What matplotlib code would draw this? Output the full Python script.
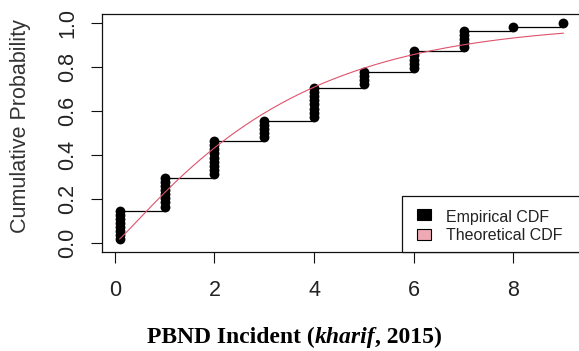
import numpy as np
import matplotlib
matplotlib.use('Agg')
import matplotlib.pyplot as plt
from matplotlib.patches import Rectangle

# observed PBND incident values and how often each one occurs
values = [0.1, 1, 2, 3, 4, 5, 6, 7, 8, 9]
counts = [8, 8, 9, 5, 8, 4, 5, 5, 1, 1]
# fitted weibull (shape, scale) for the theoretical curve
wb_shape = 1.12
wb_scale = 3.32

xticks = [0, 2, 4, 6, 8]
yticks = [0.0, 0.2, 0.4, 0.6, 0.8, 1.0]

red = '#DF536B'
pink = '#EFA9B5'
W, H = 579, 351

obs = np.repeat(values, counts)
n = len(obs)
ecdf = np.arange(1, n + 1) / n
levels = np.cumsum(counts) / n

fig = plt.figure(figsize=(W / 100, H / 100), dpi=100)
ax = fig.add_axes([102 / W, (H - 252.1) / H, (581 - 102) / W, (252.1 - 14) / H])

ax.hlines(levels[:-1], values[:-1], values[1:], colors='black', linewidth=0.9)
ax.scatter(obs, ecdf, s=50, color='black', zorder=3, linewidths=0)

xs = np.linspace(min(values), max(values), 300)
ax.plot(xs, 1 - np.exp(-(xs / wb_scale) ** wb_shape), color=red, linewidth=0.8, zorder=4)

ax.set_xlim(-0.256, 9.356)
ax.set_ylim(-0.04, 1.04)
ax.set_xticks(xticks)
ax.set_xticklabels([str(v) for v in xticks])
ax.set_yticks(yticks)
ax.set_yticklabels(['%.1f' % v for v in yticks])
for sp in ax.spines.values():
    sp.set_linewidth(0.9)
    sp.set_color('#111111')

tick_font = dict(family=['Liberation Sans', 'DejaVu Sans'], size=15.5)
ax.tick_params(axis='both', length=8, width=0.8, color='#111111', labelcolor='#222222')
ax.tick_params(axis='x', pad=12)
ax.tick_params(axis='y', pad=9)
for lab in ax.get_xticklabels():
    lab.set_fontproperties(matplotlib.font_manager.FontProperties(**tick_font))
for lab in ax.get_yticklabels():
    lab.set_fontproperties(matplotlib.font_manager.FontProperties(**tick_font))
    lab.set_rotation(90)
    lab.set_va('center')
    lab.set_ha('right')

fig.text(20.7 / W, (H - 126) / H, 'Cumulative Probability', rotation=90,
         ha='center', va='center', color='#333333', **tick_font)

# legend box, drawn by hand in pixel positions
def ax_xy(px, py):
    return (px - 102) / 479, (252.1 - py) / 238.1

x0, y0 = ax_xy(401.7, 252.1)
x1, y1 = ax_xy(581, 195.7)
ax.add_patch(Rectangle((x0, y0), x1 - x0, y1 - y0, transform=ax.transAxes,
                       facecolor='white', edgecolor='#111111', linewidth=0.9,
                       clip_on=False, zorder=5))
leg_font = dict(family=['Liberation Sans', 'DejaVu Sans'], size=11.5, color='#222222')
for label, fc, top, base in [('Empirical CDF', 'black', 209, 222.3),
                             ('Theoretical CDF', pink, 228.5, 240)]:
    bx0, by0 = ax_xy(416.7, top + 11)
    bx1, by1 = ax_xy(431, top)
    ax.add_patch(Rectangle((bx0, by0), bx1 - bx0, by1 - by0, transform=ax.transAxes,
                           facecolor=fc, edgecolor='black', linewidth=0.8,
                           clip_on=False, zorder=6))
    tx, ty = ax_xy(445.7, base)
    ax.text(tx, ty, label, transform=ax.transAxes, ha='left', va='baseline',
            zorder=6, **leg_font)

# x axis caption: bold serif with italic "kharif"
renderer = fig.canvas.get_renderer()
cap_font = dict(family=['Liberation Serif', 'DejaVu Serif'], size=17, weight='bold')
px = 147
for piece, style in [('PBND Incident (', 'normal'), ('kharif', 'italic'), (', 2015)', 'normal')]:
    t = fig.text(px / W, 8 / H, piece, ha='left', va='baseline', style=style,
                 color='black', **cap_font)
    px = t.get_window_extent(renderer).x1

fig.savefig('out.png', dpi=100)
